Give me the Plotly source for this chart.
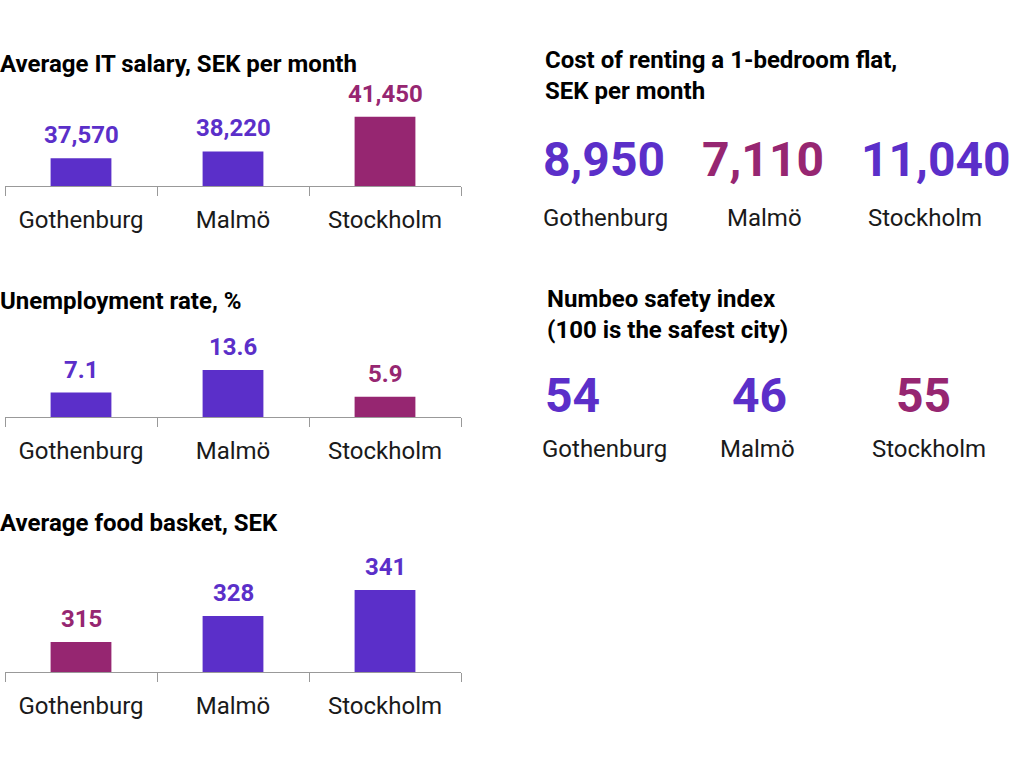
import plotly.graph_objects as go

cities = ["Gothenburg", "Malmö", "Stockholm"]
salary = [37570, 38220, 41450]
unemployment = [7.1, 13.6, 5.9]
food_basket = [315, 328, 341]
rent = [8950, 7110, 11040]
safety = [54, 46, 55]

PURPLE = "#5b2fc9"
MAGENTA = "#962671"
FONT = "Roboto"
W, H = 1024, 772


def px(x):
    return x / W


def py(y):
    return 1 - y / H


def colours(values, best):
    # highlight the "best" city in magenta
    idx = values.index(best(values))
    return [MAGENTA if i == idx else PURPLE for i in range(len(values))]


fig = go.Figure()
annotations = []

# left column: three small bar charts
bar_panels = [
    # title, values, best, fmt, title_y, axis_y (px), top_y (px), range
    ("Average IT salary, SEK per month", salary, max, "{:,.0f}", 64, 186, 100, [35000, 43000]),
    ("Unemployment rate, %", unemployment, min, "{:.1f}", 301, 417, 348, [0, 20]),
    ("Average food basket, SEK", food_basket, min, "{:.0f}", 523, 672, 572, [300, 350]),
]

for i, (title, values, best, fmt, title_y, axis_y, top_y, yrange) in enumerate(bar_panels):
    n = "" if i == 0 else str(i + 1)
    cols = colours(values, best)
    fig.add_trace(go.Bar(
        x=cities, y=values, marker=dict(color=cols, line=dict(width=0)),
        width=0.4, xaxis="x" + n, yaxis="y" + n, showlegend=False,
        hoverinfo="skip",
    ))
    fig.update_layout(**{
        "xaxis" + n: dict(
            domain=[px(5), px(461)], anchor="y" + n, type="category",
            range=[-0.5, 2.5], tickson="boundaries", ticks="outside",
            ticklen=9, tickcolor="#999999", tickwidth=1,
            showline=True, linecolor="#999999", linewidth=1,
            showgrid=False, zeroline=False,
            tickfont=dict(family=FONT, size=24, color="#1a1a1a"),
            ticklabelstandoff=12,
        ),
        "yaxis" + n: dict(
            domain=[py(axis_y), py(top_y)], anchor="x" + n, range=yrange,
            visible=False, showgrid=False, zeroline=False,
        ),
    })
    for c, v, col in zip(cities, values, cols):
        annotations.append(dict(
            x=c, y=v, xref="x" + n, yref="y" + n, text=fmt.format(v),
            showarrow=False, yanchor="bottom", yshift=7,
            font=dict(family=FONT, size=24, color=col, weight="bold"),
        ))
    annotations.append(dict(
        x=px(-2), y=py(title_y), xref="paper", yref="paper", text=title,
        showarrow=False, xanchor="left", yanchor="middle",
        font=dict(family=FONT, size=24, color="#000000", weight="bold"),
    ))

# right column: big numbers
num_panels = [
    ("Cost of renting a 1-bedroom flat,<br>SEK per month", rent, min, "{:,.0f}",
     543, 75.5, [604, 763, 936], 160, [605, 764, 925], 218),
    ("Numbeo safety index<br>(100 is the safest city)", safety, max, "{:.0f}",
     545, 314, [572, 759, 923], 395, [604, 757, 929], 449),
]

for title, values, best, fmt, tx, ty, num_x, num_y, lab_x, lab_y in num_panels:
    cols = colours(values, best)
    annotations.append(dict(
        x=px(tx), y=py(ty), xref="paper", yref="paper", text=title,
        showarrow=False, xanchor="left", yanchor="middle", align="left",
        font=dict(family=FONT, size=24, color="#000000", weight="bold"),
    ))
    for v, col, nx, lx, c in zip(values, cols, num_x, lab_x, cities):
        annotations.append(dict(
            x=px(nx), y=py(num_y), xref="paper", yref="paper", text=fmt.format(v),
            showarrow=False, xanchor="center", yanchor="middle",
            font=dict(family=FONT, size=48, color=col, weight="bold"),
        ))
        annotations.append(dict(
            x=px(lx), y=py(lab_y), xref="paper", yref="paper", text=c,
            showarrow=False, xanchor="center", yanchor="middle",
            font=dict(family=FONT, size=24, color="#1a1a1a"),
        ))

fig.update_layout(
    width=W, height=H, margin=dict(l=0, r=0, t=0, b=0),
    paper_bgcolor="white", plot_bgcolor="white",
    annotations=annotations, bargap=0.6,
)

# drop the browser's default 8px body margin so the figure sits at (0, 0)
fig.write_html(
    "out.html",
    config={"displayModeBar": False},
    post_script="document.body.style.margin='0px';",
)
